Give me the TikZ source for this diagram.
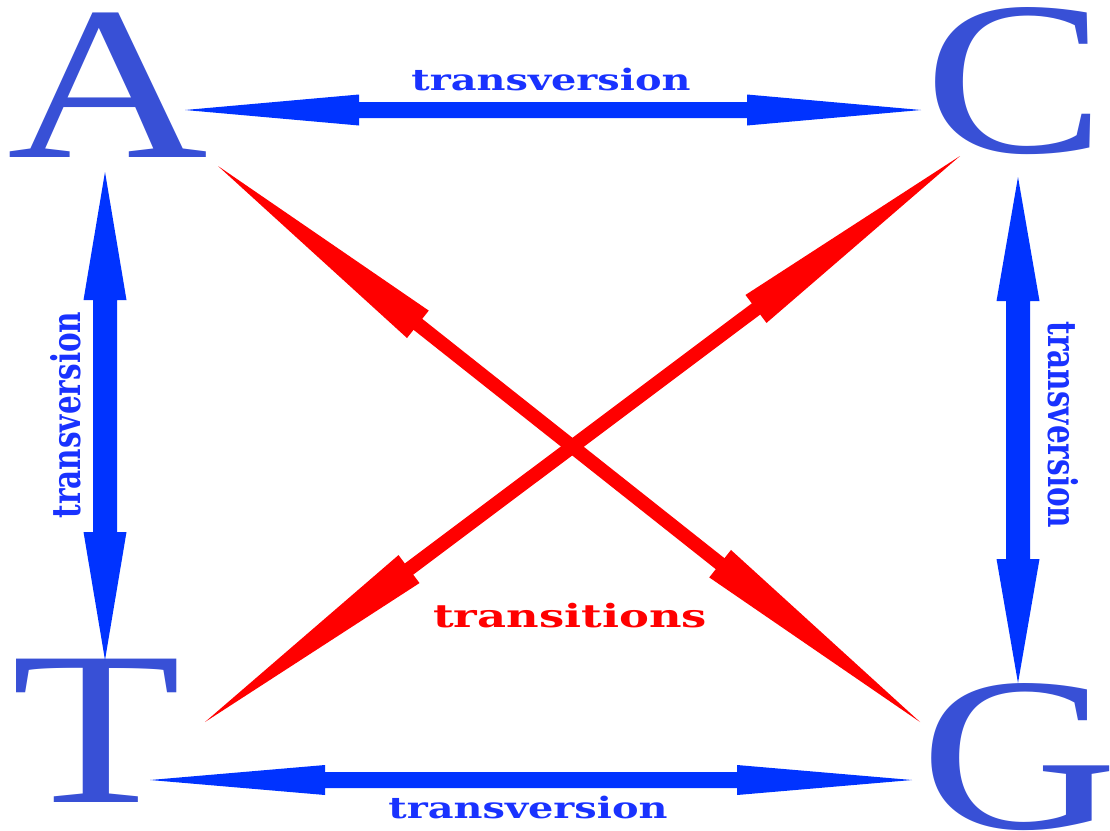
\documentclass[tikz,border=0pt]{standalone}
\usepackage{fontspec}
\setmainfont{Liberation Serif}
\newfontfamily\labfont{DejaVu Serif}
\usetikzlibrary{calc}
\definecolor{arrowblue}{RGB}{0,51,255}
\definecolor{labblue}{RGB}{25,50,255}
\definecolor{letterblue}{RGB}{56,80,214}
\definecolor{xred}{RGB}{255,0,0}
% #1 colour, #2 start, #3 end, #4 head length, #5 head half width, #6 shaft half width
\newcommand\dblarrow[6]{%
  \fill[#1] (#2)
    -- ($(#2)!#4!(#3)!#5!90:(#3)$) -- ($(#2)!#4!(#3)!#6!90:(#3)$)
    -- ($(#3)!#4!(#2)!#6!-90:(#2)$) -- ($(#3)!#4!(#2)!#5!-90:(#2)$)
    -- (#3)
    -- ($(#3)!#4!(#2)!#5!90:(#2)$) -- ($(#3)!#4!(#2)!#6!90:(#2)$)
    -- ($(#2)!#4!(#3)!#6!-90:(#3)$) -- ($(#2)!#4!(#3)!#5!-90:(#3)$)
    -- cycle;}
\tikzset{
  bigletter/.style={inner sep=0pt, font=\fontsize{219}{219}\selectfont, text=letterblue},
  labelbox/.style={inner sep=0pt, font=\labfont\bfseries\fontsize{29.5}{29.5}\selectfont, text=labblue},
  redlabel/.style={inner sep=0pt, font=\labfont\bfseries\fontsize{32}{32}\selectfont, text=xred},
}
\begin{document}
\begin{tikzpicture}[x=1pt,y=-1pt]
\useasboundingbox[fill=white] (0,0) rectangle (1110,830);
% letters
\node[bigletter] (A) at (108,85) {\scalebox{1.27}[1]{A}};
\node[bigletter] (C) at (1015,81) {\scalebox{1.24}[1]{C}};
\node[bigletter] (T) at (96,731) {\scalebox{1.27}[1]{T}};
\node[bigletter] (G) at (1019,757) {\scalebox{1.25}[1]{G}};
% connector end points
\coordinate (AC-a) at (185,110);
\coordinate (AC-c) at (921,110);
\coordinate (TG-t) at (150,780);
\coordinate (TG-g) at (912,780);
\coordinate (AT-a) at (105,172);
\coordinate (AT-t) at (105,660);
\coordinate (CG-c) at (1018,177);
\coordinate (CG-g) at (1018,683);
\coordinate (AG-a) at (218,166);
\coordinate (AG-g) at (920,722);
\coordinate (CT-c) at (960,156);
\coordinate (CT-t) at (205,722);
% transversions
\dblarrow{arrowblue}{AC-a}{AC-c}{174pt}{15.5pt}{8pt}
\dblarrow{arrowblue}{TG-t}{TG-g}{175pt}{15pt}{8pt}
\dblarrow{arrowblue}{AT-a}{AT-t}{128pt}{21.5pt}{12pt}
\dblarrow{arrowblue}{CG-c}{CG-g}{124pt}{21.5pt}{12pt}
% transitions
\dblarrow{xred}{AG-a}{AG-g}{255pt}{17.5pt}{7pt}
\dblarrow{xred}{CT-c}{CT-t}{255pt}{17.5pt}{7pt}
% labels
\node[labelbox, anchor=base] (lab-top) at (551,90) {\scalebox{1.35}[1]{transversion}};
\node[labelbox, anchor=base] (lab-bottom) at (528,818) {\scalebox{1.35}[1]{transversion}};
\node[labelbox] (lab-left) at (66,415) {\scalebox{1.34}[1]{\rotatebox{90}{transversion}}};
\node[labelbox] (lab-right) at (1063,425) {\scalebox{1.34}[1]{\rotatebox{-90}{transversion}}};
\node[redlabel, anchor=base] (lab-trans) at (570,627) {\scalebox{1.40}[1]{transitions}};
\end{tikzpicture}
\end{document}
